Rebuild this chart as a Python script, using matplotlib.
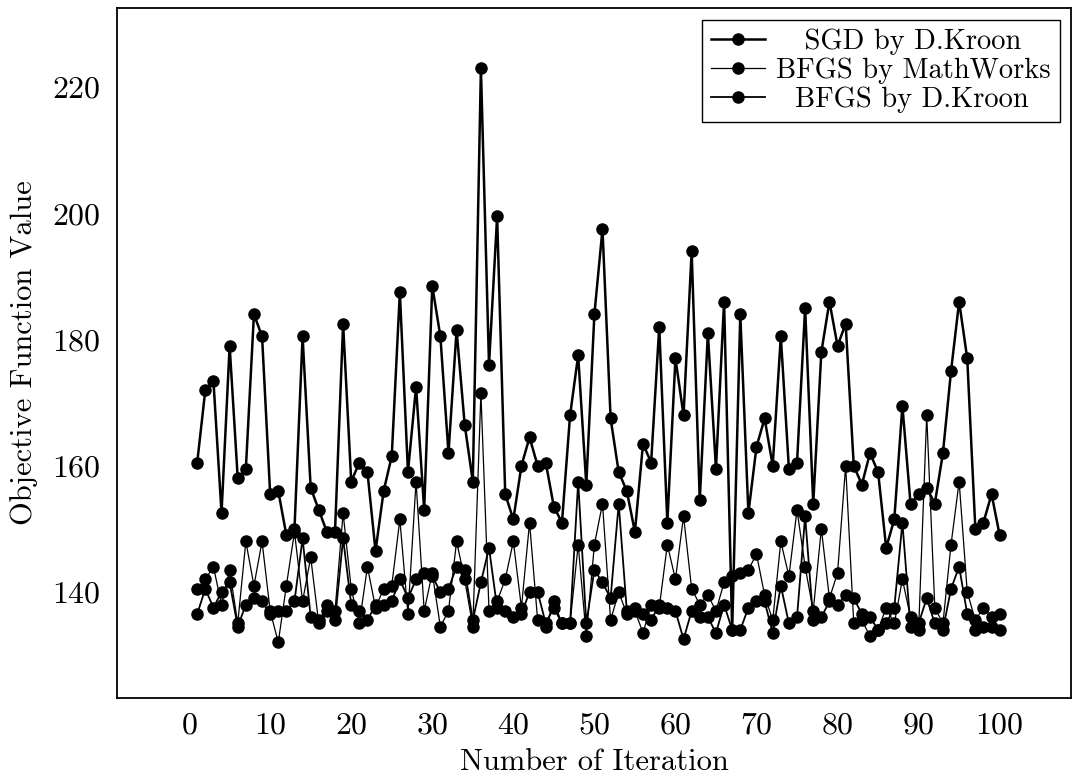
import numpy as np
import matplotlib
matplotlib.use('Agg')
from matplotlib import pyplot as plt

plt.rcParams['font.family'] = 'serif'
plt.rcParams['font.serif'] = ['cmr10', 'DejaVu Serif']
plt.rcParams['mathtext.fontset'] = 'cm'
plt.rcParams['axes.formatter.use_mathtext'] = True

iterations = np.arange(1, 101)

sgd_kroon = [160.5, 172, 173.5, 152.5, 179, 158, 159.5, 184, 180.5, 155.5,
             156, 149, 150, 180.5, 156.5, 153, 149.5, 149.5, 182.5, 157.5,
             160.5, 159, 146.5, 156, 161.5, 187.5, 159, 172.5, 153, 188.5,
             180.5, 162, 181.5, 166.5, 157.5, 223, 176, 199.5, 155.5, 151.5,
             160, 164.5, 160, 160.5, 153.5, 151, 168, 177.5, 157, 184,
             197.5, 167.5, 159, 156, 149.5, 163.5, 160.5, 182, 151, 177,
             168, 194, 154.5, 181, 159.5, 186, 134, 184, 152.5, 163,
             167.5, 160, 180.5, 159.5, 160.5, 185, 154, 178, 186, 179,
             182.5, 160, 157, 162, 159, 147, 151.5, 169.5, 154, 155.5,
             156.5, 154, 162, 175, 186, 177, 150, 151, 155.5, 149]

bfgs_mathworks = [140.5, 142, 144, 138, 143.5, 135, 148, 141, 148, 137,
                  132, 141, 149.5, 138.5, 145.5, 135, 138, 137, 152.5, 140.5,
                  135, 144, 137.5, 140.5, 141, 151.5, 136.5, 157.5, 137, 143,
                  134.5, 137, 148, 142, 134.5, 171.5, 137, 138.5, 142, 148,
                  137.5, 151, 135.5, 134.5, 138.5, 135, 135, 147.5, 133, 147.5,
                  154, 135.5, 140, 136.5, 137, 133.5, 138, 137.5, 147.5, 142,
                  152, 140.5, 138, 139.5, 137, 141.5, 142.5, 143, 143.5, 146,
                  139.5, 135.5, 148, 142.5, 153, 144, 137, 150, 139, 143,
                  160, 135, 135.5, 133, 134, 137.5, 135, 142, 136, 134,
                  168, 137.5, 135, 147.5, 157.5, 140, 135.5, 137.5, 136, 136.5]

bfgs_kroon = [136.5, 140.5, 137.5, 140, 141.5, 134.5, 138, 139, 138.5, 136.5,
              137, 137, 138.5, 148.5, 136, 135.5, 137, 135.5, 148.5, 138,
              137, 135.5, 138, 138, 138.5, 142, 139, 142, 143, 142.5,
              140, 140.5, 144, 143.5, 135.5, 141.5, 147, 137.5, 137, 136,
              136.5, 140, 140, 135, 137.5, 135, 135, 157.5, 135, 143.5,
              141.5, 139, 154, 137, 137.5, 136.5, 135.5, 138, 137.5, 137,
              132.5, 137, 136, 136, 133.5, 138, 134, 134, 137.5, 138.5,
              138.5, 133.5, 141, 135, 136, 152, 135.5, 136, 138.5, 138,
              139.5, 139, 136.5, 136, 134, 135, 137.5, 151, 134.5, 135,
              139, 135, 134, 140.5, 144, 136.5, 134, 134.5, 134.5, 134]

fig=plt.figure(figsize=(10.78,7.75),dpi=100)
ax=fig.add_axes([0.1085,0.0994,0.885,0.890])

# leading spaces mimic the centred legend labels of the original
ax.plot(iterations,sgd_kroon,'k-o',lw=1.8,ms=8,label='   SGD by D.Kroon')
ax.plot(iterations,bfgs_mathworks,'k-o',lw=0.9,ms=8,label='BFGS by MathWorks')
ax.plot(iterations,bfgs_kroon,'k-o',lw=1.3,ms=8,label='  BFGS by D.Kroon')

ax.set_xlim(-8.9,108.8)
ax.set_ylim(123.2,232.5)
ax.set_xticks(np.arange(0,101,10))
ax.set_yticks([140,160,180,200,220])
ax.tick_params(labelsize=23,length=0,pad=10)
ax.tick_params(axis='y',pad=12)
ax.set_xlabel('Number of Iteration',fontsize=22,labelpad=7)
ax.set_ylabel('Objective Function Value',fontsize=22,labelpad=10)
for s in ax.spines.values():
    s.set_linewidth(1.3)

leg=ax.legend(loc='upper right',fontsize=20.5,fancybox=False,edgecolor='black',
              framealpha=1,handlelength=1.9,borderpad=0.3,labelspacing=0.1,
              handletextpad=0.4,borderaxespad=0.4)
leg.get_frame().set_linewidth(1.0)

fig.savefig('out.png',dpi=100)
